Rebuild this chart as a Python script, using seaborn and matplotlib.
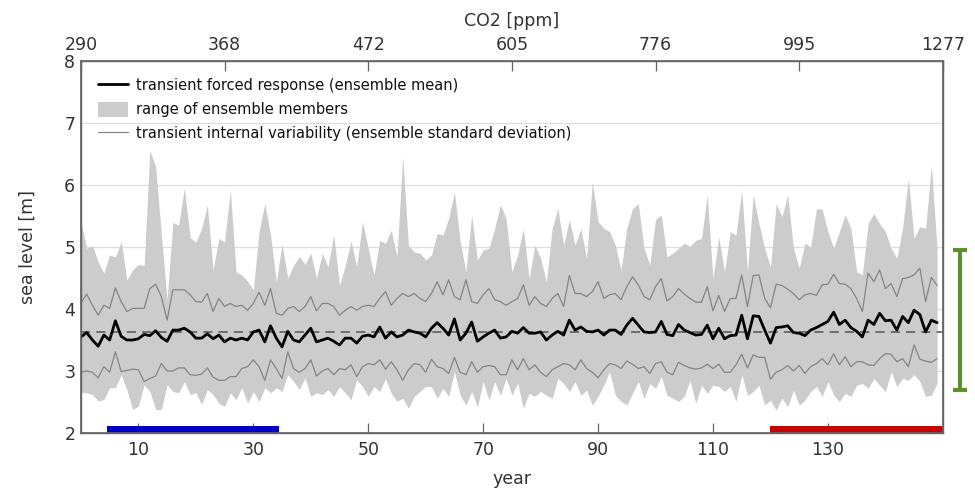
import numpy as np
import pandas as pd
import matplotlib
matplotlib.use("Agg")
import matplotlib.pyplot as plt
import seaborn as sns
from matplotlib.lines import Line2D
from matplotlib.patches import Patch

# ---------------- data ----------------
years = list(range(150))

ens_max = [5.41, 4.98, 5.02, 4.76, 4.58, 4.87, 4.84, 5.09, 4.47, 4.63,
           4.72, 4.70, 6.56, 6.30, 5.20, 4.15, 5.40, 5.35, 5.95, 5.15,
           5.08, 5.30, 5.68, 4.63, 5.14, 5.08, 5.92, 4.60, 4.55, 4.45,
           4.31, 5.25, 5.70, 5.20, 4.44, 5.05, 4.50, 4.70, 4.85, 4.72,
           4.90, 4.50, 4.90, 4.68, 5.20, 4.38, 4.70, 5.10, 4.68, 5.41,
           4.98, 4.55, 5.11, 5.06, 5.27, 4.84, 6.46, 5.03, 4.92, 4.90,
           4.79, 4.87, 5.22, 5.19, 5.46, 5.89, 5.09, 4.60, 5.52, 4.79,
           4.95, 4.98, 5.30, 5.68, 5.46, 4.60, 4.87, 5.30, 4.49, 5.03,
           4.82, 4.44, 5.30, 5.62, 5.03, 5.44, 5.03, 5.30, 4.82, 6.05,
           5.41, 5.30, 5.25, 5.03, 4.63, 5.30, 5.62, 5.70, 4.98, 4.71,
           5.44, 5.52, 4.84, 4.90, 4.98, 5.06, 5.01, 5.11, 5.14, 5.84,
           4.49, 5.17, 4.60, 5.25, 5.19, 5.92, 4.60, 5.84, 5.38, 4.98,
           4.68, 5.70, 5.49, 5.84, 4.98, 4.66, 5.06, 5.00, 5.62, 5.61,
           5.25, 4.98, 5.25, 5.52, 5.30, 4.60, 4.55, 5.38, 5.54, 5.38,
           5.25, 4.98, 4.82, 5.30, 6.11, 5.14, 5.33, 5.30, 6.32, 4.98]

ens_min = [2.65, 2.65, 2.62, 2.52, 2.54, 2.73, 2.73, 2.94, 2.70, 2.38,
           2.43, 2.78, 2.67, 2.38, 2.38, 2.78, 2.67, 2.65, 2.83, 2.62,
           2.65, 2.46, 2.70, 2.62, 2.48, 2.43, 2.65, 2.54, 2.73, 2.48,
           2.67, 2.51, 2.73, 2.65, 2.73, 2.67, 2.94, 2.83, 2.70, 2.89,
           2.59, 2.65, 2.62, 2.70, 2.59, 2.75, 2.65, 2.54, 2.86, 2.75,
           2.59, 2.75, 2.67, 2.88, 2.64, 2.51, 2.56, 2.40, 2.59, 2.67,
           2.75, 2.75, 2.56, 2.72, 2.59, 2.99, 2.61, 2.45, 2.67, 2.42,
           2.83, 2.53, 2.83, 2.61, 2.88, 2.61, 2.80, 2.40, 2.64, 2.59,
           2.67, 2.61, 2.56, 2.88, 2.80, 2.67, 2.83, 2.61, 2.69, 2.45,
           2.59, 2.77, 2.99, 2.61, 2.51, 2.45, 2.64, 2.83, 2.56, 2.80,
           2.72, 2.91, 2.61, 2.56, 2.51, 2.59, 2.85, 2.48, 2.77, 2.64,
           2.77, 2.75, 2.67, 2.75, 2.51, 2.94, 2.61, 2.67, 2.77, 2.45,
           2.53, 2.37, 2.56, 2.42, 2.69, 2.45, 2.53, 2.67, 2.75, 2.59,
           2.83, 2.61, 2.51, 2.64, 2.59, 2.77, 2.80, 2.72, 2.88, 2.77,
           2.67, 2.99, 2.75, 2.88, 2.85, 2.94, 2.83, 2.59, 2.61, 2.80]

ens_mean = [3.55, 3.62, 3.50, 3.40, 3.58, 3.50, 3.81, 3.56, 3.50, 3.50,
            3.52, 3.59, 3.57, 3.65, 3.54, 3.48, 3.66, 3.66, 3.69, 3.63,
            3.53, 3.53, 3.60, 3.52, 3.58, 3.47, 3.53, 3.50, 3.53, 3.50,
            3.63, 3.66, 3.47, 3.73, 3.53, 3.39, 3.64, 3.50, 3.47, 3.58,
            3.69, 3.47, 3.50, 3.53, 3.48, 3.42, 3.53, 3.53, 3.45, 3.56,
            3.58, 3.55, 3.71, 3.53, 3.63, 3.55, 3.58, 3.66, 3.63, 3.61,
            3.55, 3.69, 3.78, 3.69, 3.58, 3.84, 3.50, 3.61, 3.79, 3.48,
            3.55, 3.61, 3.66, 3.53, 3.55, 3.64, 3.61, 3.70, 3.61, 3.61,
            3.63, 3.50, 3.58, 3.64, 3.58, 3.82, 3.66, 3.71, 3.64, 3.63,
            3.66, 3.58, 3.66, 3.66, 3.59, 3.74, 3.85, 3.74, 3.63, 3.62,
            3.63, 3.80, 3.59, 3.57, 3.75, 3.66, 3.62, 3.58, 3.59, 3.74,
            3.52, 3.69, 3.52, 3.57, 3.58, 3.90, 3.52, 3.89, 3.88, 3.66,
            3.45, 3.70, 3.71, 3.73, 3.62, 3.61, 3.57, 3.66, 3.70, 3.75,
            3.80, 3.95, 3.75, 3.82, 3.70, 3.64, 3.55, 3.82, 3.75, 3.93,
            3.81, 3.82, 3.66, 3.88, 3.78, 3.98, 3.91, 3.63, 3.82, 3.78]

std_upper = [4.10, 4.24, 4.06, 3.90, 4.06, 4.01, 4.34, 4.12, 3.96, 4.01,
             4.01, 4.01, 4.33, 4.40, 4.20, 3.82, 4.31, 4.31, 4.31, 4.23,
             4.12, 4.11, 4.25, 3.96, 4.17, 4.04, 4.09, 4.04, 4.06, 3.98,
             4.09, 4.27, 4.06, 4.33, 3.93, 3.90, 4.01, 4.04, 3.96, 4.04,
             4.20, 3.97, 4.09, 4.09, 4.04, 3.90, 3.98, 4.04, 3.98, 4.04,
             4.06, 4.04, 4.17, 4.28, 4.06, 4.17, 4.25, 4.20, 4.25, 4.17,
             4.12, 4.25, 4.44, 4.23, 4.47, 4.20, 4.15, 4.47, 4.12, 4.09,
             4.23, 4.33, 4.15, 4.12, 4.06, 4.12, 4.17, 4.39, 4.06, 4.20,
             4.09, 4.04, 4.17, 4.25, 4.04, 4.54, 4.25, 4.25, 4.20, 4.28,
             4.44, 4.17, 4.23, 4.25, 4.15, 4.36, 4.52, 4.39, 4.20, 4.15,
             4.36, 4.49, 4.13, 4.20, 4.33, 4.24, 4.17, 4.11, 4.11, 4.36,
             3.97, 4.22, 3.96, 4.17, 4.17, 4.55, 4.04, 4.54, 4.55, 4.17,
             4.02, 4.40, 4.38, 4.32, 4.25, 4.15, 4.23, 4.25, 4.22, 4.39,
             4.40, 4.56, 4.41, 4.40, 4.33, 4.17, 3.96, 4.58, 4.44, 4.63,
             4.33, 4.41, 4.20, 4.49, 4.51, 4.55, 4.66, 4.12, 4.51, 4.38]

std_lower = [2.98, 3.00, 2.98, 2.89, 3.07, 2.98, 3.31, 2.99, 3.01, 3.03,
             3.02, 2.83, 2.88, 2.92, 3.12, 3.00, 3.00, 3.05, 3.05, 2.94,
             2.93, 2.95, 3.05, 2.90, 2.85, 2.85, 2.91, 2.91, 3.04, 3.07,
             3.18, 3.07, 2.85, 3.18, 3.04, 2.88, 3.31, 3.04, 2.98, 3.04,
             3.18, 2.92, 3.00, 3.04, 2.94, 3.04, 3.02, 3.10, 2.91, 3.07,
             3.12, 3.10, 3.18, 3.03, 3.15, 3.02, 2.85, 3.02, 3.12, 3.10,
             2.98, 3.19, 3.07, 3.04, 2.96, 3.22, 2.98, 2.94, 3.15, 2.98,
             3.07, 3.09, 3.07, 2.94, 2.94, 3.18, 3.02, 3.20, 3.02, 3.10,
             2.98, 2.91, 3.02, 3.07, 3.12, 3.10, 3.02, 3.18, 3.04, 2.98,
             2.89, 3.02, 3.12, 3.10, 3.04, 3.16, 3.11, 3.04, 3.07, 2.96,
             3.12, 3.15, 2.98, 2.94, 3.14, 3.09, 3.05, 3.03, 3.05, 3.11,
             3.04, 3.11, 2.98, 2.98, 3.10, 3.27, 3.05, 3.26, 3.22, 3.22,
             2.87, 2.98, 3.02, 3.09, 3.00, 3.09, 2.96, 3.07, 3.12, 3.20,
             3.10, 3.28, 3.10, 3.23, 3.07, 3.15, 3.15, 3.10, 3.09, 3.20,
             3.28, 3.27, 3.15, 3.20, 3.07, 3.42, 3.19, 3.16, 3.14, 3.20]

baseline = 3.63
year_ticks = [10, 30, 50, 70, 90, 110, 130]
y_ticks = [2, 3, 4, 5, 6, 7, 8]
co2_tick_years = [0, 25, 50, 75, 100, 125, 150]
co2_labels = ["290", "368", "472", "605", "776", "995", "1277"]
early_period = [4.6, 34.5]
late_period = [120, 150]
spread_range = [2.69, 4.95]

legend_labels = ["transient forced response (ensemble mean)",
                 "range of ensemble members",
                 "transient internal variability (ensemble standard deviation)"]

df = pd.DataFrame({"year": years, "mean": ens_mean, "up": std_upper,
                   "lo": std_lower, "mx": ens_max, "mn": ens_min})

# ---------------- style ----------------
sns.set_theme(style="white")
plt.rcParams["font.family"] = ["DejaVu Sans"]
tick_col = "#333333"
spine_col = "#666666"

fig = plt.figure(figsize=(9.75, 4.9), dpi=100)
ax = fig.add_axes([0.083, 0.1163, 0.884, 0.7592])

ax.set_xlim(0, 150)
ax.set_ylim(2, 8)
ax.yaxis.grid(True, color="#dedede", lw=0.9)
ax.set_axisbelow(True)

ax.fill_between(df["year"], df["mn"], df["mx"], color="#cccccc", lw=0, zorder=1)
sns.lineplot(data=df, x="year", y="up", color="#858585", lw=0.9, ax=ax, zorder=2)
sns.lineplot(data=df, x="year", y="lo", color="#858585", lw=0.9, ax=ax, zorder=2)
ax.plot([0, 150], [baseline, baseline], ls=(0, (6, 4)), color="#555555", lw=1.1, zorder=3)
sns.lineplot(data=df, x="year", y="mean", color="black", lw=2.0, ax=ax, zorder=4)

# period bars
ax.fill_between(early_period, 2.0, 2.12, color="#0000c4", lw=0, zorder=5)
ax.fill_between(late_period, 2.0, 2.12, color="#c40000", lw=0, zorder=5)

# spread bar outside the axes
gx = 153.0
ax.plot([gx, gx], spread_range, color="#5e8e2e", lw=3, clip_on=False, zorder=6)
ax.plot([gx, gx], spread_range, ls="none", marker="_", ms=10, mew=3,
        color="#5e8e2e", clip_on=False, zorder=6)

ax.set_xticks(year_ticks)
ax.set_xticklabels([str(v) for v in year_ticks])
ax.set_yticks(y_ticks)
ax.set_yticklabels([str(v) for v in y_ticks])
ax.tick_params(axis="both", direction="in", length=7, width=0.9, color=spine_col,
               labelsize=12.5, labelcolor=tick_col)
ax.tick_params(axis="x", pad=6)
ax.tick_params(axis="y", pad=4)
ax.set_xlabel("year", fontsize=12.5, color=tick_col, labelpad=8)
ax.set_ylabel("sea level [m]", fontsize=12.5, color=tick_col, labelpad=20)
for s in ax.spines.values():
    s.set_color(spine_col)
    s.set_linewidth(1.0)

ax2 = ax.twiny()
ax2.set_xlim(0, 150)
ax2.set_xticks(co2_tick_years)
ax2.set_xticklabels(co2_labels)
ax2.tick_params(axis="x", direction="in", length=7, width=0.9, color=spine_col,
                labelsize=12.5, labelcolor=tick_col, pad=5)
ax2.set_xlabel("CO2 [ppm]", fontsize=12.5, color=tick_col, labelpad=7)
for s in ax2.spines.values():
    s.set_color(spine_col)

handles = [Line2D([], [], color="black", lw=2.0),
           Patch(facecolor="#cccccc", edgecolor="none"),
           Line2D([], [], color="#858585", lw=0.9)]
leg = ax.legend(handles, legend_labels, loc="upper left", frameon=False,
                fontsize=10.5, handlelength=2.1, handleheight=1.2,
                labelspacing=0.6, borderaxespad=0.75, handletextpad=0.55)
for t in leg.get_texts():
    t.set_color("#111111")

fig.savefig("out.png", dpi=100)
